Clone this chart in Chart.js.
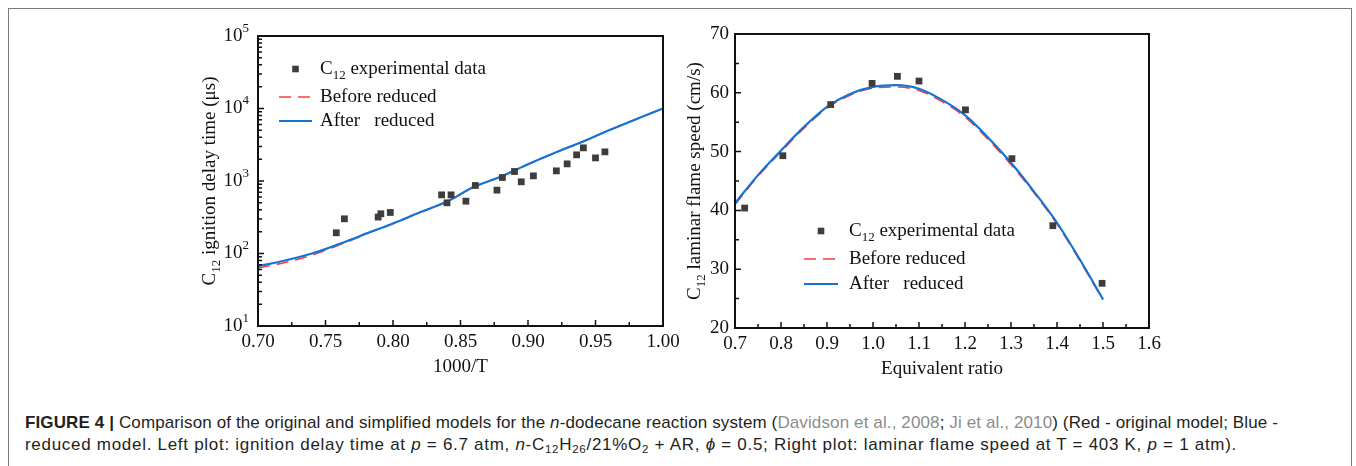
<!DOCTYPE html>
<html>
<head>
<meta charset="utf-8">
<script src="https://cdn.jsdelivr.net/npm/chart.js@4.4.0/dist/chart.umd.min.js"></script>
<style>
  body { margin: 0; background: #fff; }
  #page { position: relative; width: 1356px; height: 466px; overflow: hidden; }
  #frame { position: absolute; left: 8px; top: 8px; width: 1342px; height: 480px; border: 1px solid #7a7a7a; }
  canvas { position: absolute; }
  .cap { position: absolute; left: 25px; font-family: "Liberation Sans", Arial, sans-serif; font-size: 17px; line-height: 20px; color: #231f20; white-space: nowrap; }
  .cap .ref { color: #8c8c8c; }
  .cap sub { font-size: 68%; vertical-align: -3px; line-height: 0; }
</style>
</head>
<body>
<div id="page">
  <div id="frame"></div>
  <canvas id="idtChart" width="500" height="362" style="left:180px;top:18px"></canvas>
  <canvas id="flsChart" width="500" height="362" style="left:680px;top:18px"></canvas>
  <div class="cap" id="cap1" style="top:413px"><b>FIGURE 4 |</b> Comparison of the original and simplified models for the <i>n</i>-dodecane reaction system (<span class="ref">Davidson et al., 2008</span>; <span class="ref">Ji et al., 2010</span>) (Red - original model; Blue -</div>
  <div class="cap" id="cap2" style="top:435px">reduced model. Left plot: ignition delay time at <i>p</i> = 6.7 atm, <i>n</i>-C<sub>12</sub>H<sub>26</sub>/21%O<sub>2</sub> + AR, <i>ϕ</i> = 0.5; Right plot: laminar flame speed at T = 403 K, <i>p</i> = 1 atm).</div>
</div>
<script>
// ---- ignition delay time (left)
const idtExpX = [0.758, 0.764, 0.789, 0.791, 0.798, 0.836, 0.840, 0.843, 0.854, 0.861, 0.877,
                 0.881, 0.890, 0.895, 0.904, 0.921, 0.929, 0.936, 0.941, 0.950, 0.957];
const idtExpY = [193, 301, 318, 353, 368, 644, 500, 644, 527, 867, 748,
                 1117, 1352, 975, 1178, 1380, 1723, 2295, 2866, 2083, 2523];
const idtModelX = [0.70, 0.72, 0.74, 0.75, 0.76, 0.77, 0.78, 0.80, 0.82, 0.84, 0.86, 0.88, 0.90, 0.92, 0.94, 0.96, 0.98, 1.00];
const idtBefore = [63, 75, 95, 111, 131, 155, 186, 258, 368, 518, 828, 1148, 1698, 2448, 3448, 4995, 7095, 9990];
const idtAfter  = [67, 80, 100, 115, 135, 158, 188, 260, 370, 520, 830, 1150, 1700, 2450, 3450, 5000, 7100, 10000];
const idtXTicks = [0.70, 0.75, 0.80, 0.85, 0.90, 0.95, 1.00];
const idtYTicks = [10, 100, 1000, 10000, 100000];

// ---- laminar flame speed (right)
const flsExpX = [0.721, 0.804, 0.908, 0.998, 1.053, 1.100, 1.201, 1.302, 1.391, 1.498];
const flsExpY = [40.4, 49.3, 58.0, 61.6, 62.8, 62.0, 57.1, 48.8, 37.4, 27.6];
const flsModelX = [0.70, 0.75, 0.80, 0.85, 0.90, 0.95, 1.00, 1.05, 1.10, 1.15, 1.20, 1.25, 1.30, 1.35, 1.40, 1.45, 1.50];
const flsBefore = [41.0, 45.8, 50.0, 54.0, 57.4, 59.6, 60.8, 61.0, 60.4, 58.5, 55.9, 52.1, 47.8, 43.0, 37.7, 31.4, 24.8];
const flsAfter  = [41.2, 46.0, 50.2, 54.2, 57.6, 59.8, 61.0, 61.3, 60.7, 58.8, 56.2, 52.4, 48.1, 43.2, 37.9, 31.6, 24.9];
const flsXTicks = [0.7, 0.8, 0.9, 1.0, 1.1, 1.2, 1.3, 1.4, 1.5, 1.6];
const flsYTicks = [20, 30, 40, 50, 60, 70];

const BLUE = '#1473d6';
const RED = '#ff3b3b';
const DOT = '#3d3d3d';
const INK = '#111';
const serif = '"Liberation Serif", "Times New Roman", serif';
const FS = 19;

const pts = (xs, ys) => xs.map((x, i) => ({ x, y: ys[i] }));

// text runs: [text, 0 normal | 1 subscript | 2 superscript]
function runFont(kind, size) {
    return (kind ? Math.round(size * 0.66) : size) + 'px ' + serif;
}
function runsWidth(ctx, runs, size) {
    let w = 0;
    for (const [t, k] of runs) { ctx.font = runFont(k, size); w += ctx.measureText(t).width; }
    return w;
}
function drawRuns(ctx, runs, x, y, size, align) {
    const w = runsWidth(ctx, runs, size);
    let cx = align === 'center' ? x - w / 2 : align === 'right' ? x - w : x;
    ctx.textAlign = 'left';
    ctx.textBaseline = 'middle';
    for (const [t, k] of runs) {
        ctx.font = runFont(k, size);
        const dy = k === 1 ? size * 0.32 : k === 2 ? -size * 0.4 : 0;
        ctx.fillText(t, cx, y + dy);
        cx += ctx.measureText(t).width;
    }
}

// frame, inward ticks, labels, titles and the in-plot legend
const axesBox = {
    id: 'axesBox',
    afterDraw(chart, args, o) {
        const { ctx, chartArea: a, scales: { x, y } } = chart;
        ctx.save();
        ctx.strokeStyle = INK;
        ctx.fillStyle = INK;

        ctx.lineWidth = 1.5;
        ctx.beginPath();
        o.xMajor.forEach(v => { const px = x.getPixelForValue(v); ctx.moveTo(px, a.bottom); ctx.lineTo(px, a.bottom - 6); });
        o.xMinor.forEach(v => { const px = x.getPixelForValue(v); ctx.moveTo(px, a.bottom); ctx.lineTo(px, a.bottom - 4); });
        o.yMajor.forEach(v => { const py = y.getPixelForValue(v); ctx.moveTo(a.left, py); ctx.lineTo(a.left + 6, py); });
        o.yMinor.forEach(v => { const py = y.getPixelForValue(v); ctx.moveTo(a.left, py); ctx.lineTo(a.left + 4, py); });
        ctx.stroke();

        ctx.lineWidth = 2;
        ctx.strokeRect(a.left, a.top, a.right - a.left, a.bottom - a.top);

        o.xMajor.forEach(v => drawRuns(ctx, [[o.xFmt(v), 0]], x.getPixelForValue(v), a.bottom + 16, FS, 'center'));
        o.yMajor.forEach(v => drawRuns(ctx, o.yFmt(v), a.left - o.yGap, y.getPixelForValue(v), FS, 'right'));

        drawRuns(ctx, o.xTitle, (a.left + a.right) / 2, a.bottom + 41, FS, 'center');
        ctx.save();
        ctx.translate(a.left - o.yTitleGap, (a.top + a.bottom) / 2);
        ctx.rotate(-Math.PI / 2);
        drawRuns(ctx, o.yTitle, 0, 0, FS, 'center');
        ctx.restore();

        const L = o.legend;
        L.rows.forEach((dy, i) => {
            const ly = a.top + dy;
            const lx0 = a.left + L.lineFrom, lx1 = a.left + L.lineTo;
            if (i === 0) {
                ctx.fillStyle = DOT;
                const cx = (lx0 + lx1) / 2;
                ctx.fillRect(cx - 3.3, ly - 3.3, 6.6, 6.6);
                ctx.fillStyle = INK;
            } else {
                ctx.beginPath();
                ctx.strokeStyle = i === 1 ? RED : BLUE;
                ctx.lineWidth = i === 1 ? 1.6 : 2.2;
                ctx.setLineDash(i === 1 ? [12, 7] : []);
                ctx.moveTo(lx0, ly);
                ctx.lineTo(lx1, ly);
                ctx.stroke();
                ctx.setLineDash([]);
            }
            drawRuns(ctx, L.labels[i], a.left + L.textAt, ly, FS, 'left');
        });
        ctx.restore();
    }
};

const legendLabels = [
    [['C', 0], ['12', 1], [' experimental data', 0]],
    [['Before reduced', 0]],
    [['After   reduced', 0]]
];

function seriesSets(ex, ey, mx, before, after) {
    return [
        { label: 'C12 experimental data', data: pts(ex, ey), showLine: false, pointStyle: 'rect',
          pointRadius: 4.8, backgroundColor: DOT, borderColor: DOT, borderWidth: 0 },
        { label: 'After reduced', data: pts(mx, after), showLine: true, borderColor: BLUE, borderWidth: 2.2,
          pointRadius: 0, cubicInterpolationMode: 'monotone' },
        { label: 'Before reduced', data: pts(mx, before), showLine: true, borderColor: RED, borderWidth: 1.6,
          borderDash: [12, 7], pointRadius: 0, cubicInterpolationMode: 'monotone' }
    ];
}

function baseOptions(padding, scales, box) {
    return {
        responsive: false,
        animation: false,
        devicePixelRatio: 1,
        layout: { padding },
        scales,
        plugins: { legend: { display: false }, tooltip: { enabled: false }, axesBox: box }
    };
}

// log minor ticks 2..9 per decade, linear minors halfway between majors
const logMinors = [];
for (let d = 10; d < 100000; d *= 10) for (let k = 2; k <= 9; k++) logMinors.push(k * d);
const halfway = t => t.slice(1).map((v, i) => (v + t[i]) / 2);

new Chart(document.getElementById('idtChart'), {
    type: 'scatter',
    data: { datasets: seriesSets(idtExpX, idtExpY, idtModelX, idtBefore, idtAfter) },
    options: baseOptions(
        { left: 78, right: 17, top: 18, bottom: 54 },
        {
            x: { type: 'linear', min: 0.7, max: 1.0, display: false },
            y: { type: 'logarithmic', min: 10, max: 100000, display: false }
        },
        {
            xMajor: idtXTicks, xMinor: halfway(idtXTicks),
            yMajor: idtYTicks, yMinor: logMinors,
            xFmt: v => v.toFixed(2),
            yFmt: v => [['10', 0], [String(Math.round(Math.log10(v))), 2]],
            yGap: 9,
            xTitle: [['1000/T', 0]],
            yTitle: [['C', 0], ['12', 1], [' ignition delay time (μs)', 0]],
            yTitleGap: 48,
            legend: { lineFrom: 21, lineTo: 54, textAt: 62, rows: [33, 61, 85], labels: legendLabels }
        }),
    plugins: [axesBox]
});

new Chart(document.getElementById('flsChart'), {
    type: 'scatter',
    data: { datasets: seriesSets(flsExpX, flsExpY, flsModelX, flsBefore, flsAfter) },
    options: baseOptions(
        { left: 55, right: 31, top: 16, bottom: 52 },
        {
            x: { type: 'linear', min: 0.7, max: 1.6, display: false },
            y: { type: 'linear', min: 20, max: 70, display: false }
        },
        {
            xMajor: flsXTicks, xMinor: halfway(flsXTicks),
            yMajor: flsYTicks, yMinor: halfway(flsYTicks),
            xFmt: v => v.toFixed(1),
            yFmt: v => [[String(v), 0]],
            yGap: 6,
            xTitle: [['Equivalent ratio', 0]],
            yTitle: [['C', 0], ['12', 1], [' laminar flame speed (cm/s)', 0]],
            yTitleGap: 40,
            legend: { lineFrom: 69, lineTo: 103, textAt: 114, rows: [197, 225, 250], labels: legendLabels }
        }),
    plugins: [axesBox]
});

// caption lines are set to fixed widths
function fitLine(el, width) {
    const w = el.getBoundingClientRect().width;
    el.style.letterSpacing = ((width - w) / el.textContent.length) + 'px';
}
fitLine(document.getElementById('cap1'), 1253);
fitLine(document.getElementById('cap2'), 1212);
</script>
</body>
</html>
